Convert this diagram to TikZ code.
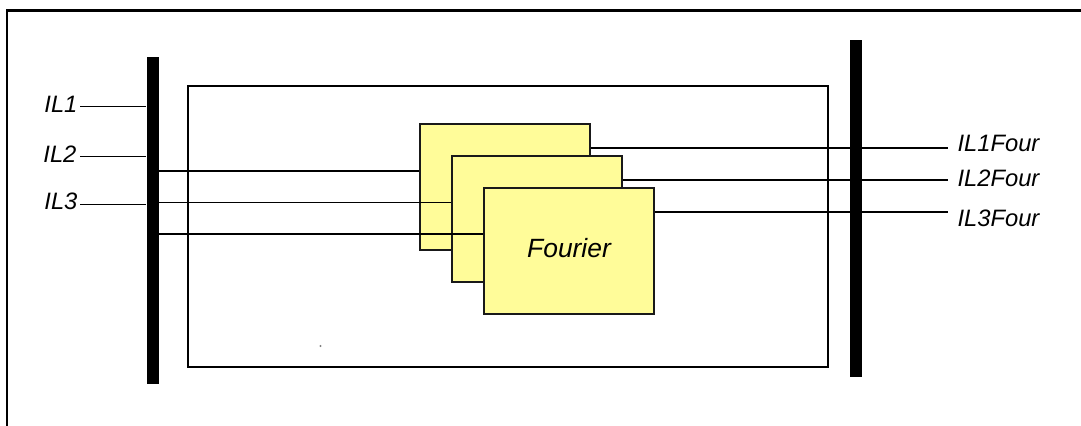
\documentclass[tikz,border=0pt]{standalone}
\usepackage{fontspec}
\setmainfont{Liberation Sans}
\definecolor{blkfill}{HTML}{FFFC99}
\begin{document}
\begin{tikzpicture}[x=0.75pt,y=-0.75pt,
  frameline/.style={line width=1.6pt,black},
  wire/.style={line width=1.05pt,black},
  busbar/.style={fill=black,draw=none,minimum width=9pt,inner sep=0pt},
  fblock/.style={draw=black!90,fill=blkfill,line width=1.5pt,minimum width=127.5pt,minimum height=94.5pt,inner sep=0pt},
  lbl/.style={font=\fontsize{17.8}{20}\selectfont\itshape,inner sep=1pt}]
\useasboundingbox (0,0) rectangle (1081,425);
% outer frame (top and left edges)
\coordinate (fTL) at (7,10.5);
\coordinate (fTR) at (1082,10.5);
\coordinate (fBL) at (7,426);
\draw[frameline] (fTR) -- (fTL) -- (fBL);
% inner rectangle
\node[draw=black,line width=1.5pt,minimum width=480pt,minimum height=210.75pt,inner sep=0pt] (inner) at (508,226) {};
% bus bars
\node[busbar,minimum height=245.25pt] (barL) at (152.5,220.5) {};
\node[busbar,minimum height=252.75pt] (barR) at (856,208.5) {};
% Fourier blocks
\node[fblock] (b1) at (505,187) {};
\node[fblock] (b2) at (537,219) {};
\node[fblock] (b3) at (569,251) {};
\node[lbl,anchor=base,font=\fontsize{19.8}{22}\selectfont\itshape] (four) at (569,257) {Fourier};
% y levels
\coordinate (ya) at (0,171);
\coordinate (yb) at (0,202.5);
\coordinate (yc) at (0,234);
\coordinate (o1) at (0,148);
\coordinate (o2) at (0,180);
\coordinate (o3) at (0,212);
\coordinate (e1) at (948,148);
\coordinate (e2) at (948,180);
\coordinate (e3) at (948,212);
% wires into blocks
\draw[wire] (barL.east |- ya) -- (b1.west |- ya);
\draw[wire] (barL.east |- yb) -- (b2.west |- yb);
\draw[wire] (barL.east |- yc) -- (b3.west |- yc);
% left inputs
\node[lbl,anchor=base east] (il1) at (79,112) {IL1};
\node[lbl,anchor=base east] (il2) at (78,162) {IL2};
\node[lbl,anchor=base east] (il3) at (79,209) {IL3};
\coordinate (l1) at (80,106.5);
\coordinate (l2) at (80,156.5);
\coordinate (l3) at (80,204.5);
\draw[wire] (l1) -- (barL.west |- l1);
\draw[wire] (l2) -- (barL.west |- l2);
\draw[wire] (l3) -- (barL.west |- l3);
% outputs
\draw[wire] (b1.east |- o1) -- (e1);
\draw[wire] (b2.east |- o2) -- (e2);
\draw[wire] (b3.east |- o3) -- (e3);
\node[lbl,anchor=base west] (r1) at (956,151.5) {IL1Four};
\node[lbl,anchor=base west] (r2) at (956,186.5) {IL2Four};
\node[lbl,anchor=base west] (r3) at (956,226) {IL3Four};
% stray dot
\fill[black!50] (320.5,346) circle (0.8pt);
\end{tikzpicture}
\end{document}
